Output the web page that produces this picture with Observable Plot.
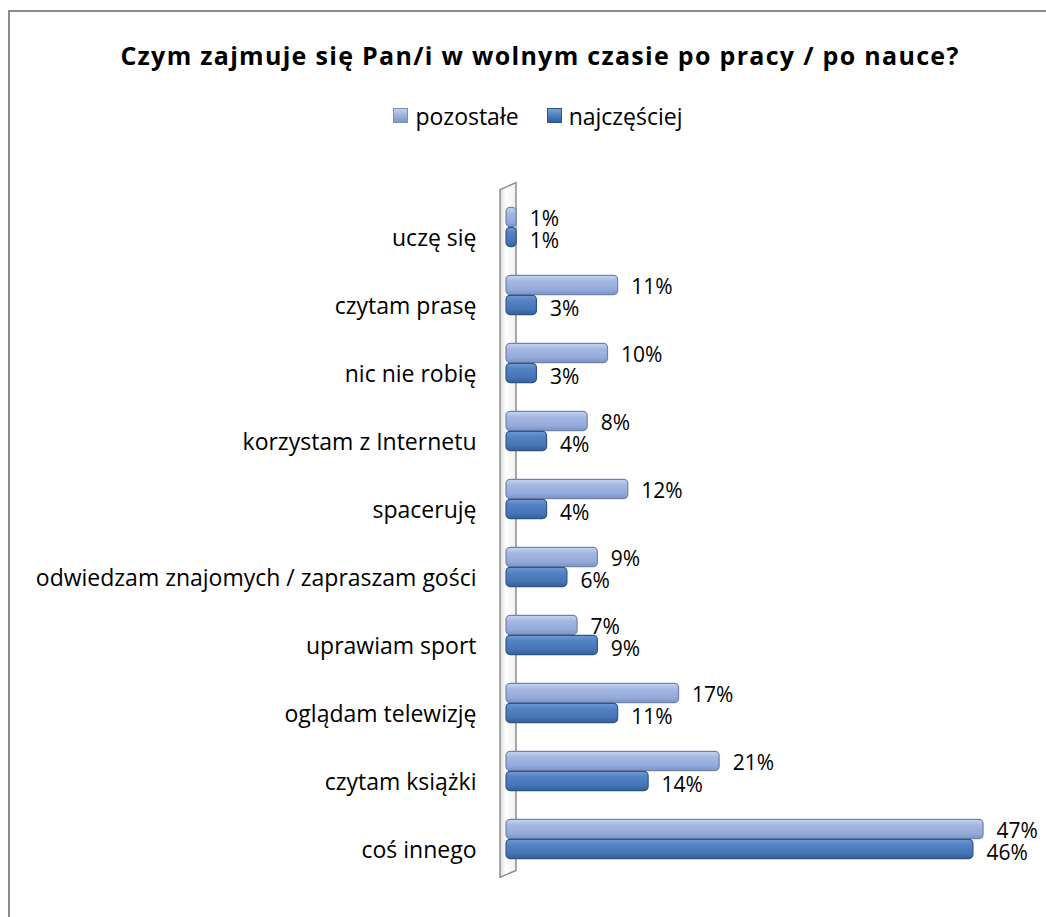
<!DOCTYPE html>
<html lang="pl">
<head>
<meta charset="utf-8">
<script src="https://cdn.jsdelivr.net/npm/d3@7"></script>
<script src="https://cdn.jsdelivr.net/npm/@observablehq/plot@0.6"></script>
<style>
  html, body { margin: 0; padding: 0; background: #fff; width: 1046px; height: 917px; overflow: hidden; font-family: "Open Sans", sans-serif; }
  #frame { position: absolute; left: 8px; top: 10px; width: 2000px; height: 2000px; border-left: 2px solid #8c8c8c; border-top: 2px solid #8c8c8c; }
  #title { position: absolute; left: 0; top: 38px; width: 1080px; text-align: center; font-weight: 700; font-size: 25px; letter-spacing: 1.3px; color: #000; white-space: nowrap; }
  #legend { position: absolute; left: 0; top: 98px; width: 1076px; text-align: center; font-size: 23px; color: #000; white-space: nowrap; }
  .item { display: inline-flex; align-items: center; margin: 0 14px; }
  .sw { display: inline-block; width: 15px; height: 15px; margin-right: 7px; box-sizing: border-box; }
  #chart { position: absolute; left: 0; top: 150px; }
</style>
</head>
<body>
<div id="frame"></div>
<div id="title">Czym zajmuje się Pan/i w wolnym czasie po pracy / po nauce?</div>
<div id="legend"></div>
<div id="chart"></div>
<script>
const categories = ["uczę się", "czytam prasę", "nic nie robię", "korzystam z Internetu", "spaceruję", "odwiedzam znajomych / zapraszam gości", "uprawiam sport", "oglądam telewizję", "czytam książki", "coś innego"];
const pozostale = [1, 11, 10, 8, 12, 9, 7, 17, 21, 47];
const najczesciej = [1, 3, 3, 4, 4, 6, 9, 11, 14, 46];
const seriesNames = ["pozostałe", "najczęściej"];

const lightRows = categories.map((c, i) => ({cat: c, v: pozostale[i]}));
const darkRows = categories.map((c, i) => ({cat: c, v: najczesciej[i]}));

// legend
const legend = document.getElementById("legend");
const swatchBg = [
  "linear-gradient(#c3d2ef, #98aedc 55%, #8199c8)",
  "linear-gradient(#7aa2d8, #4a7bbd 55%, #35609c)"
];
const swatchBorder = ["#7d8fb3", "#2f5585"];
seriesNames.forEach((s, i) => {
  const it = document.createElement("span");
  it.className = "item";
  const sw = document.createElement("span");
  sw.className = "sw";
  sw.style.background = swatchBg[i];
  sw.style.border = "1px solid " + swatchBorder[i];
  it.appendChild(sw);
  it.appendChild(document.createTextNode(s));
  legend.appendChild(it);
});

const H = 767;
const M = 39.6;
const band = (H - 2 * M) / categories.length;
const half = band / 2;
const barH = 20;

function wall(index, scales, values, dims) {
  const x0 = scales.x(0);
  const y0 = dims.marginTop;
  const y1 = dims.height - dims.marginBottom;
  const g = d3.create("svg:g");
  g.append("path")
    .attr("d", `M${x0 - 6},${y0} L${x0 + 10},${y0 - 7} L${x0 + 10},${y1 - 7} L${x0 - 6},${y1} Z`)
    .attr("fill", "url(#gWall)")
    .attr("stroke", "#8e8e8e")
    .attr("stroke-width", 1.5);
  return g.node();
}

const chart = Plot.plot({
  width: 1046,
  height: H,
  marginTop: M,
  marginBottom: M,
  marginLeft: 506,
  marginRight: 32.5,
  style: {fontFamily: "Open Sans, sans-serif", fontSize: "22px", color: "#000", overflow: "visible"},
  x: {domain: [0, 50], axis: null},
  y: {domain: categories, padding: 0, label: null},
  marks: [
    wall,
    Plot.axisY({tickSize: 0, tickPadding: 30, dy: 11, fontSize: 23, textAnchor: "end", label: null}),
    Plot.barX(lightRows, {x: "v", y: "cat", fill: "url(#gLight)", stroke: "#6f84ad", strokeWidth: 1.2, rx: 4, insetTop: half - barH, insetBottom: half}),
    Plot.barX(darkRows, {x: "v", y: "cat", fill: "url(#gDark)", stroke: "#2f5585", strokeWidth: 1.2, rx: 4, insetTop: half, insetBottom: half - barH}),
    Plot.text(lightRows, {x: "v", y: "cat", text: d => d.v + "%", textAnchor: "start", dx: 13, dy: -8, fontSize: 21, fill: "#000"}),
    Plot.text(darkRows, {x: "v", y: "cat", text: d => d.v + "%", textAnchor: "start", dx: 13, dy: 14, fontSize: 21, fill: "#000"})
  ]
});

const defs = `
<defs>
  <linearGradient id="gLight" x1="0" y1="0" x2="0" y2="1">
    <stop offset="0" stop-color="#c6d4f0"/>
    <stop offset="0.3" stop-color="#a4b8e2"/>
    <stop offset="0.75" stop-color="#93a9d8"/>
    <stop offset="1" stop-color="#7b93c4"/>
  </linearGradient>
  <linearGradient id="gDark" x1="0" y1="0" x2="0" y2="1">
    <stop offset="0" stop-color="#6f98d2"/>
    <stop offset="0.3" stop-color="#5182c4"/>
    <stop offset="0.75" stop-color="#4674b4"/>
    <stop offset="1" stop-color="#335d98"/>
  </linearGradient>
  <linearGradient id="gWall" x1="0" y1="0" x2="1" y2="0">
    <stop offset="0" stop-color="#d9d9d9"/>
    <stop offset="0.35" stop-color="#ffffff"/>
    <stop offset="1" stop-color="#f0f0f0"/>
  </linearGradient>
</defs>`;
chart.insertAdjacentHTML("afterbegin", defs);
document.getElementById("chart").appendChild(chart);
</script>
</body>
</html>
